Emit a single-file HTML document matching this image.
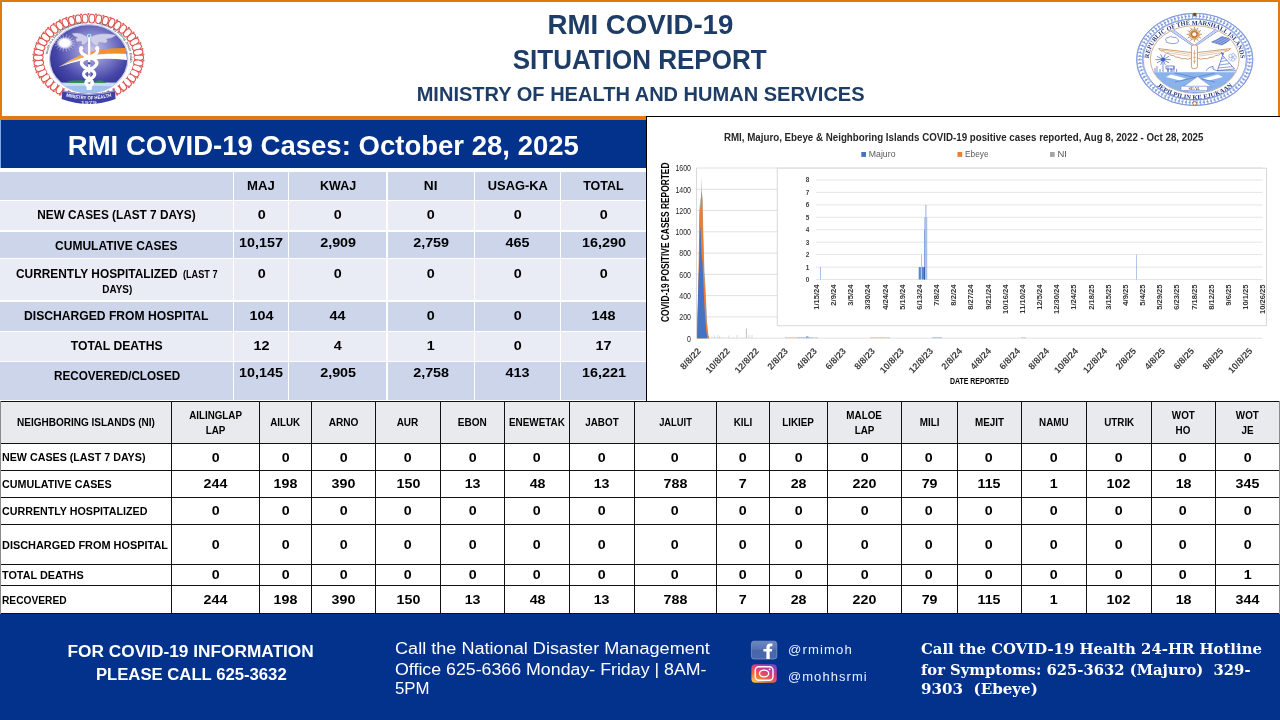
<!DOCTYPE html>
<html lang="en"><head><meta charset="utf-8"><title>RMI COVID-19 Situation Report</title>
<style>
html,body{margin:0;padding:0}
body{width:1280px;height:720px;position:relative;overflow:hidden;background:#fff;font-family:"Liberation Sans",sans-serif;color:#000}
.t{position:absolute;white-space:nowrap;line-height:1;font-weight:bold}
.r{position:absolute}
svg{position:absolute;overflow:visible}
svg text{font-family:"Liberation Sans",sans-serif}
</style></head><body>
<div class="r" style="left:0;top:0;width:1276px;height:113.5px;border-style:solid;border-color:#E07A10;border-width:2px 2px 4px 2px;background:#fff"></div>
<div class="t" style="left:548.56px;top:10.68px;font-size:27.2px;color:#1D3C66;transform:scaleX(1.0171);transform-origin:50% 50%;">RMI COVID-19</div>
<div class="t" style="left:506.87px;top:46.38px;font-size:27.2px;color:#1D3C66;transform:scaleX(0.9568);transform-origin:50% 50%;">SITUATION REPORT</div>
<div class="t" style="left:408.33px;top:84.39px;font-size:20.8px;color:#1D3C66;transform:scaleX(0.9627);transform-origin:50% 50%;">MINISTRY OF HEALTH AND HUMAN SERVICES</div>
<svg width="1280" height="120" viewBox="0 0 1280 120" style="left:0;top:0">
<defs>
<radialGradient id="lg1" cx="0.55" cy="0.36" r="0.66"><stop offset="0" stop-color="#C4C2EA"/><stop offset="0.3" stop-color="#8E8DD2"/><stop offset="0.7" stop-color="#4546A8"/><stop offset="1" stop-color="#2C2D8C"/></radialGradient>
<radialGradient id="lg2" cx="0.5" cy="0.5" r="0.5"><stop offset="0" stop-color="#fff"/><stop offset="0.6" stop-color="#fff" stop-opacity="0.97"/><stop offset="1" stop-color="#fff" stop-opacity="0"/></radialGradient>
<linearGradient id="lg3" x1="0" x2="1" y1="0" y2="0"><stop offset="0" stop-color="#F8C06A"/><stop offset="0.5" stop-color="#F29A2E"/><stop offset="1" stop-color="#EC8A20"/></linearGradient>
<clipPath id="lc1"><ellipse cx="88.7" cy="58.8" rx="39.2" ry="34.2"/></clipPath>
<path id="lp1" d="M47.53,55.08 A41.4,35.6 0 0 1 84.37,23.40"/>
<path id="lp2" d="M98.01,24.11 A41.4,35.6 0 0 1 129.70,63.75"/>
<path id="lp3" d="M64.6,96.2 Q88.8,102.6 113,96.2"/>
</defs>
<ellipse cx="88.5" cy="57.6" rx="50.2" ry="39.1" fill="none" stroke="#F0A098" stroke-width="9.4" opacity="0.35"/>
<ellipse cx="138.7" cy="57.6" rx="4.9" ry="2.9" transform="rotate(0 138.7 57.6)" fill="#fff" stroke="#DC5048" stroke-width="1.05"/>
<ellipse cx="138.2" cy="62.9" rx="4.8" ry="2.9" transform="rotate(10 138.2 62.9)" fill="#fff" stroke="#DC5048" stroke-width="1.05"/>
<ellipse cx="136.8" cy="68.1" rx="4.8" ry="2.9" transform="rotate(20 136.8 68.1)" fill="#fff" stroke="#DC5048" stroke-width="1.05"/>
<ellipse cx="134.5" cy="73.2" rx="4.7" ry="2.9" transform="rotate(29 134.5 73.2)" fill="#fff" stroke="#DC5048" stroke-width="1.05"/>
<ellipse cx="131.4" cy="77.9" rx="4.6" ry="2.9" transform="rotate(38 131.4 77.9)" fill="#fff" stroke="#DC5048" stroke-width="1.05"/>
<ellipse cx="127.4" cy="82.3" rx="4.6" ry="2.9" transform="rotate(46 127.4 82.3)" fill="#fff" stroke="#DC5048" stroke-width="1.05"/>
<ellipse cx="122.8" cy="86.2" rx="4.5" ry="2.9" transform="rotate(54 122.8 86.2)" fill="#fff" stroke="#DC5048" stroke-width="1.05"/>
<ellipse cx="117.4" cy="89.5" rx="4.5" ry="2.9" transform="rotate(61 117.4 89.5)" fill="#fff" stroke="#DC5048" stroke-width="1.05"/>
<ellipse cx="111.6" cy="92.3" rx="4.5" ry="2.9" transform="rotate(68 111.6 92.3)" fill="#fff" stroke="#DC5048" stroke-width="1.05"/>
<ellipse cx="105.3" cy="94.4" rx="4.4" ry="2.9" transform="rotate(75 105.3 94.4)" fill="#fff" stroke="#DC5048" stroke-width="1.05"/>
<ellipse cx="98.7" cy="95.9" rx="4.4" ry="2.9" transform="rotate(81 98.7 95.9)" fill="#fff" stroke="#DC5048" stroke-width="1.05"/>
<ellipse cx="91.9" cy="96.6" rx="4.4" ry="2.9" transform="rotate(87 91.9 96.6)" fill="#fff" stroke="#DC5048" stroke-width="1.05"/>
<ellipse cx="85.1" cy="96.6" rx="4.4" ry="2.9" transform="rotate(93 85.1 96.6)" fill="#fff" stroke="#DC5048" stroke-width="1.05"/>
<ellipse cx="78.3" cy="95.9" rx="4.4" ry="2.9" transform="rotate(99 78.3 95.9)" fill="#fff" stroke="#DC5048" stroke-width="1.05"/>
<ellipse cx="71.7" cy="94.4" rx="4.4" ry="2.9" transform="rotate(105 71.7 94.4)" fill="#fff" stroke="#DC5048" stroke-width="1.05"/>
<ellipse cx="65.4" cy="92.3" rx="4.5" ry="2.9" transform="rotate(112 65.4 92.3)" fill="#fff" stroke="#DC5048" stroke-width="1.05"/>
<ellipse cx="59.6" cy="89.5" rx="4.5" ry="2.9" transform="rotate(119 59.6 89.5)" fill="#fff" stroke="#DC5048" stroke-width="1.05"/>
<ellipse cx="54.2" cy="86.2" rx="4.5" ry="2.9" transform="rotate(126 54.2 86.2)" fill="#fff" stroke="#DC5048" stroke-width="1.05"/>
<ellipse cx="49.6" cy="82.3" rx="4.6" ry="2.9" transform="rotate(134 49.6 82.3)" fill="#fff" stroke="#DC5048" stroke-width="1.05"/>
<ellipse cx="45.6" cy="77.9" rx="4.6" ry="2.9" transform="rotate(142 45.6 77.9)" fill="#fff" stroke="#DC5048" stroke-width="1.05"/>
<ellipse cx="42.5" cy="73.2" rx="4.7" ry="2.9" transform="rotate(151 42.5 73.2)" fill="#fff" stroke="#DC5048" stroke-width="1.05"/>
<ellipse cx="40.2" cy="68.1" rx="4.8" ry="2.9" transform="rotate(160 40.2 68.1)" fill="#fff" stroke="#DC5048" stroke-width="1.05"/>
<ellipse cx="38.8" cy="62.9" rx="4.8" ry="2.9" transform="rotate(170 38.8 62.9)" fill="#fff" stroke="#DC5048" stroke-width="1.05"/>
<ellipse cx="38.3" cy="57.6" rx="4.9" ry="2.9" transform="rotate(180 38.3 57.6)" fill="#fff" stroke="#DC5048" stroke-width="1.05"/>
<ellipse cx="38.8" cy="52.3" rx="4.8" ry="2.9" transform="rotate(-170 38.8 52.3)" fill="#fff" stroke="#DC5048" stroke-width="1.05"/>
<ellipse cx="40.2" cy="47.1" rx="4.8" ry="2.9" transform="rotate(-160 40.2 47.1)" fill="#fff" stroke="#DC5048" stroke-width="1.05"/>
<ellipse cx="42.5" cy="42.0" rx="4.7" ry="2.9" transform="rotate(-151 42.5 42.0)" fill="#fff" stroke="#DC5048" stroke-width="1.05"/>
<ellipse cx="45.6" cy="37.3" rx="4.6" ry="2.9" transform="rotate(-142 45.6 37.3)" fill="#fff" stroke="#DC5048" stroke-width="1.05"/>
<ellipse cx="49.6" cy="32.9" rx="4.6" ry="2.9" transform="rotate(-134 49.6 32.9)" fill="#fff" stroke="#DC5048" stroke-width="1.05"/>
<ellipse cx="54.2" cy="29.0" rx="4.5" ry="2.9" transform="rotate(-126 54.2 29.0)" fill="#fff" stroke="#DC5048" stroke-width="1.05"/>
<ellipse cx="59.6" cy="25.7" rx="4.5" ry="2.9" transform="rotate(-119 59.6 25.7)" fill="#fff" stroke="#DC5048" stroke-width="1.05"/>
<ellipse cx="65.4" cy="22.9" rx="4.5" ry="2.9" transform="rotate(-112 65.4 22.9)" fill="#fff" stroke="#DC5048" stroke-width="1.05"/>
<ellipse cx="71.7" cy="20.8" rx="4.4" ry="2.9" transform="rotate(-105 71.7 20.8)" fill="#fff" stroke="#DC5048" stroke-width="1.05"/>
<ellipse cx="78.3" cy="19.3" rx="4.4" ry="2.9" transform="rotate(-99 78.3 19.3)" fill="#fff" stroke="#DC5048" stroke-width="1.05"/>
<ellipse cx="85.1" cy="18.6" rx="4.4" ry="2.9" transform="rotate(-93 85.1 18.6)" fill="#fff" stroke="#DC5048" stroke-width="1.05"/>
<ellipse cx="91.9" cy="18.6" rx="4.4" ry="2.9" transform="rotate(-87 91.9 18.6)" fill="#fff" stroke="#DC5048" stroke-width="1.05"/>
<ellipse cx="98.7" cy="19.3" rx="4.4" ry="2.9" transform="rotate(-81 98.7 19.3)" fill="#fff" stroke="#DC5048" stroke-width="1.05"/>
<ellipse cx="105.3" cy="20.8" rx="4.4" ry="2.9" transform="rotate(-75 105.3 20.8)" fill="#fff" stroke="#DC5048" stroke-width="1.05"/>
<ellipse cx="111.6" cy="22.9" rx="4.5" ry="2.9" transform="rotate(-68 111.6 22.9)" fill="#fff" stroke="#DC5048" stroke-width="1.05"/>
<ellipse cx="117.4" cy="25.7" rx="4.5" ry="2.9" transform="rotate(-61 117.4 25.7)" fill="#fff" stroke="#DC5048" stroke-width="1.05"/>
<ellipse cx="122.8" cy="29.0" rx="4.5" ry="2.9" transform="rotate(-54 122.8 29.0)" fill="#fff" stroke="#DC5048" stroke-width="1.05"/>
<ellipse cx="127.4" cy="32.9" rx="4.6" ry="2.9" transform="rotate(-46 127.4 32.9)" fill="#fff" stroke="#DC5048" stroke-width="1.05"/>
<ellipse cx="131.4" cy="37.3" rx="4.6" ry="2.9" transform="rotate(-38 131.4 37.3)" fill="#fff" stroke="#DC5048" stroke-width="1.05"/>
<ellipse cx="134.5" cy="42.0" rx="4.7" ry="2.9" transform="rotate(-29 134.5 42.0)" fill="#fff" stroke="#DC5048" stroke-width="1.05"/>
<ellipse cx="136.8" cy="47.1" rx="4.8" ry="2.9" transform="rotate(-20 136.8 47.1)" fill="#fff" stroke="#DC5048" stroke-width="1.05"/>
<ellipse cx="138.2" cy="52.3" rx="4.8" ry="2.9" transform="rotate(-10 138.2 52.3)" fill="#fff" stroke="#DC5048" stroke-width="1.05"/>
<circle cx="143.5" cy="60.6" r="1.05" fill="#D9625C"/>
<circle cx="142.4" cy="66.5" r="1.05" fill="#D9625C"/>
<circle cx="140.4" cy="72.2" r="1.05" fill="#D9625C"/>
<circle cx="137.4" cy="77.6" r="1.05" fill="#D9625C"/>
<circle cx="133.5" cy="82.7" r="1.05" fill="#D9625C"/>
<circle cx="128.8" cy="87.3" r="1.05" fill="#D9625C"/>
<circle cx="123.3" cy="91.3" r="1.05" fill="#D9625C"/>
<circle cx="117.1" cy="94.8" r="1.05" fill="#D9625C"/>
<circle cx="110.5" cy="97.5" r="1.05" fill="#D9625C"/>
<circle cx="103.4" cy="99.5" r="1.05" fill="#D9625C"/>
<circle cx="96.0" cy="100.7" r="1.05" fill="#D9625C"/>
<circle cx="88.5" cy="101.1" r="1.05" fill="#D9625C"/>
<circle cx="81.0" cy="100.7" r="1.05" fill="#D9625C"/>
<circle cx="73.6" cy="99.5" r="1.05" fill="#D9625C"/>
<circle cx="66.5" cy="97.5" r="1.05" fill="#D9625C"/>
<circle cx="59.9" cy="94.8" r="1.05" fill="#D9625C"/>
<circle cx="53.7" cy="91.3" r="1.05" fill="#D9625C"/>
<circle cx="48.2" cy="87.3" r="1.05" fill="#D9625C"/>
<circle cx="43.5" cy="82.7" r="1.05" fill="#D9625C"/>
<circle cx="39.6" cy="77.6" r="1.05" fill="#D9625C"/>
<circle cx="36.6" cy="72.2" r="1.05" fill="#D9625C"/>
<circle cx="34.6" cy="66.5" r="1.05" fill="#D9625C"/>
<circle cx="33.5" cy="60.6" r="1.05" fill="#D9625C"/>
<circle cx="33.5" cy="54.6" r="1.05" fill="#D9625C"/>
<circle cx="34.6" cy="48.7" r="1.05" fill="#D9625C"/>
<circle cx="36.6" cy="43.0" r="1.05" fill="#D9625C"/>
<circle cx="39.6" cy="37.6" r="1.05" fill="#D9625C"/>
<circle cx="43.5" cy="32.5" r="1.05" fill="#D9625C"/>
<circle cx="48.2" cy="27.9" r="1.05" fill="#D9625C"/>
<circle cx="53.7" cy="23.9" r="1.05" fill="#D9625C"/>
<circle cx="59.9" cy="20.4" r="1.05" fill="#D9625C"/>
<circle cx="66.5" cy="17.7" r="1.05" fill="#D9625C"/>
<circle cx="73.6" cy="15.7" r="1.05" fill="#D9625C"/>
<circle cx="81.0" cy="14.5" r="1.05" fill="#D9625C"/>
<circle cx="88.5" cy="14.1" r="1.05" fill="#D9625C"/>
<circle cx="96.0" cy="14.5" r="1.05" fill="#D9625C"/>
<circle cx="103.4" cy="15.7" r="1.05" fill="#D9625C"/>
<circle cx="110.5" cy="17.7" r="1.05" fill="#D9625C"/>
<circle cx="117.1" cy="20.4" r="1.05" fill="#D9625C"/>
<circle cx="123.3" cy="23.9" r="1.05" fill="#D9625C"/>
<circle cx="128.8" cy="27.9" r="1.05" fill="#D9625C"/>
<circle cx="133.5" cy="32.5" r="1.05" fill="#D9625C"/>
<circle cx="137.4" cy="37.6" r="1.05" fill="#D9625C"/>
<circle cx="140.4" cy="43.0" r="1.05" fill="#D9625C"/>
<circle cx="142.4" cy="48.7" r="1.05" fill="#D9625C"/>
<circle cx="143.5" cy="54.6" r="1.05" fill="#D9625C"/>
<ellipse cx="88.7" cy="58.8" rx="45" ry="35.4" fill="#fff"/>
<text font-size="3.4" fill="#5E5E70" font-weight="bold"><textPath href="#lp1" startOffset="1" textLength="50" lengthAdjust="spacingAndGlyphs">Health is a Shared Responsibility</textPath></text>
<text font-size="3.4" fill="#5E5E70" font-weight="bold"><textPath href="#lp2" startOffset="1" textLength="54" lengthAdjust="spacingAndGlyphs">Ejmour Ej Adwoj Jimor Eddo</textPath></text>
<ellipse cx="88.7" cy="58.8" rx="39.2" ry="34.2" fill="url(#lg1)" stroke="#C9C7EC" stroke-width="1.2"/>
<g clip-path="url(#lc1)">
<path d="M45,82.6 H135 V96 H45 Z" fill="#9FC2EC"/>
<path d="M52,84 Q88,80.6 126,84 V87 Q88,84.4 52,87 Z" fill="#D6E6F7" opacity="0.75"/>
<path d="M64.4,82.8 Q70,79.8 76,80.6 Q82,79.4 86,81.4 L86,82.9 Z" fill="#2E8B4A"/>
<path d="M93,82.8 Q97.4,79.4 101,80.6 Q104.4,81 106.6,82.9 Z" fill="#2E8B4A"/>
<path d="M58.6,67 Q70,59.6 81.5,54.4 Q100,47.6 125.6,48 L126.4,53.8 Q102,52.4 81.5,57.9 Q70,61.4 58.6,67 Z" fill="url(#lg3)"/>
<path d="M58.6,67 Q70,61.4 81.5,57.9 Q102,52.4 126.4,53.8 L127,59.9 Q102,57.4 81.5,60.6 Q70,63 58.6,67 Z" fill="#fff"/>
<g stroke="#fff" stroke-width="0.55" opacity="0.8">
<line x1="70.2" y1="43.0" x2="75.2" y2="43.0"/>
<line x1="69.9" y1="44.4" x2="74.6" y2="45.9"/>
<line x1="68.9" y1="45.6" x2="72.7" y2="48.5"/>
<line x1="67.5" y1="46.5" x2="70.0" y2="50.4"/>
<line x1="65.7" y1="46.9" x2="66.5" y2="51.5"/>
<line x1="63.7" y1="46.9" x2="62.9" y2="51.5"/>
<line x1="62.0" y1="46.5" x2="59.5" y2="50.4"/>
<line x1="60.5" y1="45.6" x2="56.7" y2="48.5"/>
<line x1="59.5" y1="44.4" x2="54.8" y2="45.9"/>
<line x1="59.2" y1="43.0" x2="54.2" y2="43.0"/>
<line x1="59.5" y1="41.6" x2="54.8" y2="40.1"/>
<line x1="60.5" y1="40.4" x2="56.7" y2="37.5"/>
<line x1="62.0" y1="39.5" x2="59.4" y2="35.6"/>
<line x1="63.7" y1="39.1" x2="62.9" y2="34.5"/>
<line x1="65.7" y1="39.1" x2="66.5" y2="34.5"/>
<line x1="67.5" y1="39.5" x2="69.9" y2="35.6"/>
<line x1="68.9" y1="40.4" x2="72.7" y2="37.5"/>
<line x1="69.9" y1="41.6" x2="74.6" y2="40.1"/>
</g>
<ellipse cx="64.7" cy="43" rx="8.4" ry="6.4" fill="url(#lg2)"/>
<path d="M88,37.4 Q80,31.6 72,33.6 Q73.6,36.6 77.6,37.6 Q74.8,39.2 76.4,41.6 Q79.4,41.8 81.4,41 Q80.6,43.6 83,45.2 Q86.6,43.6 88,40.4 Z" fill="#CFCEEA" stroke="#9C9BD0" stroke-width="0.4"/>
<path d="M90.4,37.4 Q98,31.6 116,35 Q112.4,38.4 106.4,39 Q108.4,41 106,43 Q101.4,43 98.8,42 Q99.4,44.6 96.4,46 Q92,44 90.4,40.4 Z" fill="#CFCEEA" stroke="#9C9BD0" stroke-width="0.4"/>
<rect x="88.1" y="36" width="2.2" height="54" rx="1" fill="#fff"/>
<circle cx="89.2" cy="36" r="2.3" fill="#CFE8FF"/><circle cx="89.2" cy="35.8" r="1.2" fill="#4FA8F0"/>
<path d="M81,49 Q79.4,54 89.2,57 Q98.4,60 96.6,64.4 Q94.6,67.8 89.2,69.4 Q82.6,71.4 83.8,75.2 Q85,78 89.2,79.2 Q93.6,80.8 92,84.2 Q90.6,86.8 88,88.4" fill="none" stroke="#fff" stroke-width="3.2" stroke-linecap="round"/>
<path d="M97.4,49 Q99,54 89.2,57 Q80,60 81.8,64.4 Q83.8,67.8 89.2,69.4 Q95.8,71.4 94.6,75.2 Q93.4,78 89.2,79.2 Q84.8,80.8 86.4,84.2 Q87.8,86.8 90.4,88.4" fill="none" stroke="#fff" stroke-width="3.2" stroke-linecap="round"/>
<circle cx="81.2" cy="48.2" r="2.1" fill="#fff"/><circle cx="97.2" cy="48.2" r="2.1" fill="#fff"/>
<circle cx="89.2" cy="63.2" r="1.3" fill="#4A4AA8"/><circle cx="89.2" cy="74.4" r="1.1" fill="#7A7AA8"/><circle cx="89.2" cy="83" r="0.9" fill="#7A7AA8"/>
</g>
<path d="M62.6,90.2 Q88.8,97.6 114.6,90.2 L115.6,99 Q88.8,109 61.6,99 Z" fill="#3D3FA6"/>
<path d="M62.6,90.2 Q88.8,97.6 114.6,90.2 L114.8,91.6 Q88.8,99 62.4,91.6 Z" fill="#9A9ADC"/>
<text font-size="4.9" font-weight="bold" fill="#fff" text-anchor="middle"><textPath href="#lp3" startOffset="50%" textLength="46" lengthAdjust="spacingAndGlyphs">MINISTRY OF HEALTH</textPath></text>
<text x="88.8" y="104.2" font-size="3.8" font-weight="bold" fill="#DADAF6" text-anchor="middle" textLength="16" lengthAdjust="spacingAndGlyphs">1979</text>
</svg>
<svg width="1280" height="120" viewBox="0 0 1280 120" style="left:0;top:0">
<defs>
<clipPath id="rc1"><ellipse cx="1194.7" cy="59.4" rx="44.2" ry="33.6"/></clipPath>
<path id="rp1" d="M1148.91,58.79 A45.8,35.0 0 0 1 1240.49,58.79"/>
<path id="rp2" d="M1149.76,78.18 A50.9,40.0 0 0 0 1239.64,78.18"/>
</defs>
<ellipse cx="1194.7" cy="59.4" rx="55" ry="43.3" fill="none" stroke="#9DB3E6" stroke-width="6.4"/>
<ellipse cx="1194.7" cy="59.4" rx="55" ry="43.3" fill="none" stroke="#fff" stroke-width="4.4" stroke-dasharray="2.4 1.2"/>
<ellipse cx="1194.7" cy="59.4" rx="55" ry="43.3" fill="none" stroke="#7F9BDD" stroke-width="1.4" stroke-dasharray="1.8 1.8" stroke-dashoffset="1"/>
<ellipse cx="1194.7" cy="59.4" rx="58.3" ry="46.1" fill="none" stroke="#6C8AD6" stroke-width="0.7"/>
<ellipse cx="1194.7" cy="59.4" rx="51.6" ry="40.4" fill="none" stroke="#6C8AD6" stroke-width="0.7"/>
<text font-size="6.5" font-weight="bold" fill="#27397F" style="font-family:'Liberation Serif',serif" text-anchor="middle"><textPath href="#rp1" startOffset="50%" textLength="125" lengthAdjust="spacingAndGlyphs">REPUBLIC OF THE MARSHALL ISLANDS</textPath></text>
<text font-size="6.3" font-weight="bold" fill="#27397F" style="font-family:'Liberation Serif',serif" text-anchor="middle"><textPath href="#rp2" startOffset="50%" textLength="82" lengthAdjust="spacingAndGlyphs">JEPILPILIN KE EJUKAAN</textPath></text>
<ellipse cx="1194.7" cy="59.4" rx="44.4" ry="33.8" fill="#fff" stroke="#B07A4A" stroke-width="0.6"/>
<g clip-path="url(#rc1)">
<rect x="1145" y="72.2" width="100" height="30" fill="#8AB3EC"/>
<path d="M1171,74.6 L1186,78.4 L1180,80.6 L1166,77 Z" fill="#fff"/><path d="M1218,74.6 L1203,78.4 L1209,80.6 L1223,77 Z" fill="#fff"/>
<path d="M1175,73 L1215,82 M1215,73 L1175,82" stroke="#5B7BCB" stroke-width="0.7"/>
<path d="M1197.5,76.6 L1211.5,86.6 L1183.5,86.6 Z" fill="#fff" stroke="#5B7BCB" stroke-width="0.5"/>
<path d="M1188,86.6 H1207 V92 H1188 Z" fill="#DDE9FA" stroke="#5B7BCB" stroke-width="0.4"/>
<path d="M1181,86.2 H1207.5 V90.6 H1181 Z" fill="#fff" stroke="#5B7BCB" stroke-width="0.5"/>
<text x="1194.4" y="90" font-size="3.8" font-weight="bold" fill="#8A5A2B" text-anchor="middle" style="font-family:'Liberation Serif',serif" textLength="12" lengthAdjust="spacingAndGlyphs">SEAL</text>
<path d="M1193,46 L1168,29 M1193.6,45 L1170.6,27.6 M1195.6,46 L1220.6,29 M1195,45 L1218,27.6" stroke="#4460C0" stroke-width="0.8"/>
<path d="M1193,46 L1168,29 L1170.6,27.6 L1193.6,45 Z M1195.6,46 L1220.6,29 L1218,27.6 L1195,45 Z" fill="#C4D1F2"/>
<g stroke="#B5651D" stroke-width="0.7">
<line x1="1196.9" y1="34.3" x2="1201.9" y2="34.3"/>
<line x1="1196.8" y1="35.0" x2="1199.9" y2="35.8"/>
<line x1="1196.6" y1="35.6" x2="1200.9" y2="38.1"/>
<line x1="1196.1" y1="36.1" x2="1198.4" y2="38.4"/>
<line x1="1195.6" y1="36.6" x2="1198.1" y2="40.9"/>
<line x1="1195.0" y1="36.8" x2="1195.8" y2="39.9"/>
<line x1="1194.3" y1="36.9" x2="1194.3" y2="41.9"/>
<line x1="1193.6" y1="36.8" x2="1192.8" y2="39.9"/>
<line x1="1193.0" y1="36.6" x2="1190.5" y2="40.9"/>
<line x1="1192.5" y1="36.1" x2="1190.2" y2="38.4"/>
<line x1="1192.0" y1="35.6" x2="1187.7" y2="38.1"/>
<line x1="1191.8" y1="35.0" x2="1188.7" y2="35.8"/>
<line x1="1191.7" y1="34.3" x2="1186.7" y2="34.3"/>
<line x1="1191.8" y1="33.6" x2="1188.7" y2="32.8"/>
<line x1="1192.0" y1="33.0" x2="1187.7" y2="30.5"/>
<line x1="1192.5" y1="32.5" x2="1190.2" y2="30.2"/>
<line x1="1193.0" y1="32.0" x2="1190.5" y2="27.7"/>
<line x1="1193.6" y1="31.8" x2="1192.8" y2="28.7"/>
<line x1="1194.3" y1="31.7" x2="1194.3" y2="26.7"/>
<line x1="1195.0" y1="31.8" x2="1195.8" y2="28.7"/>
<line x1="1195.6" y1="32.0" x2="1198.1" y2="27.7"/>
<line x1="1196.1" y1="32.5" x2="1198.4" y2="30.2"/>
<line x1="1196.6" y1="33.0" x2="1200.9" y2="30.5"/>
<line x1="1196.8" y1="33.6" x2="1199.9" y2="32.8"/>
</g>
<circle cx="1194.3" cy="34.3" r="3.4" fill="#C9772E"/><circle cx="1194.3" cy="34.3" r="2" fill="#fff"/>
<path d="M1166,40.6 Q1164.6,38 1168,37.6 Q1170,35.8 1173,37.2 Q1177,36.6 1178,39.6 Q1179.4,42.6 1176,43.2 Q1172,44.4 1169,43 Q1165.6,43 1166,40.6 Z" fill="#fff" stroke="#4460C0" stroke-width="0.6"/>
<path d="M1211.6,42 Q1217,40 1222,36.6 L1231,39 Q1226,43.4 1221.6,45 Z" fill="#6C8AD6" stroke="#3E58B4" stroke-width="0.5"/>
<path d="M1214,42.6 L1224.6,37.4 M1217,43.6 L1227.4,38.2 M1220,44.6 L1229.6,38.8" stroke="#E8EEFB" stroke-width="0.4"/>
<path d="M1191.6,52.6 L1158.6,48.6 Q1160,51 1164,51.4 Q1164.6,53.4 1168.6,53.6 Q1169.6,55.6 1173.6,55.6 Q1175,57.6 1179,57.4 Q1181,59.4 1185,58.6 Q1188,60 1191.6,58 Z" fill="#fff" stroke="#B9783C" stroke-width="0.7"/>
<path d="M1197.2,52.6 L1230.6,48.6 Q1229,51 1225,51.4 Q1224.4,53.4 1220.4,53.6 Q1219.4,55.6 1215.4,55.6 Q1214,57.6 1210,57.4 Q1208,59.4 1204,58.6 Q1201,60 1197.2,58 Z" fill="#fff" stroke="#B9783C" stroke-width="0.7"/>
<path d="M1162,50 L1190,54.4 M1167,52.6 L1190,56.2 M1227,50 L1199,54.4 M1222,52.6 L1199,56.2" stroke="#B9783C" stroke-width="0.4"/>
<rect x="1191.4" y="45" width="6" height="23.6" rx="2" fill="#fff" stroke="#B9783C" stroke-width="0.7"/>
<path d="M1194.4,50 v14 M1193,53 q1.6,1.4 3,0 M1193,57 q1.6,1.4 3,0 M1193,61 q1.6,1.4 3,0" stroke="#B9783C" stroke-width="0.5" fill="none"/>
<g stroke="#4460C0" stroke-width="0.7" fill="none">
<path d="M1163,72 V60"/>
<path d="M1163,59.6 L1170.6,59.6"/>
<path d="M1163,59.6 L1169.1,62.9"/>
<path d="M1163,59.6 L1165.3,64.9"/>
<path d="M1163,59.6 L1160.7,64.9"/>
<path d="M1163,59.6 L1156.9,62.9"/>
<path d="M1163,59.6 L1155.4,59.6"/>
<path d="M1163,59.6 L1156.9,56.3"/>
<path d="M1163,59.6 L1160.7,54.3"/>
<path d="M1163,59.6 L1165.3,54.3"/>
<path d="M1163,59.6 L1169.1,56.3"/>
<path d="M1155,72 v-4 m2,4 v-6 m3,6 v-3 m8,3 v-5 m3,5 v-4 m3,4 v-6 m2.6,6 v-3"/>
<path d="M1166,66 h8 v3 h-8 z M1168,69 v3 M1172,69 v3"/>
</g>
<circle cx="1163" cy="59.6" r="2" fill="#4460C0"/>
<path d="M1217.4,70.6 L1222.6,55.4 L1234.6,69 Z" fill="#fff" stroke="#4460C0" stroke-width="0.7"/>
<path d="M1219.4,65 L1229.6,63.6 M1218.4,68 L1232.4,66.6 M1220.6,61.6 L1226.8,60.4 M1221.6,58.4 L1224.4,58" stroke="#4460C0" stroke-width="0.6"/>
<path d="M1222.6,55.4 L1221.4,52.4 L1224,54" fill="#4460C0" stroke="#4460C0" stroke-width="0.5"/>
<path d="M1206,70.6 Q1209,66.6 1213,66.4 L1213,69 L1217,70.8 L1236,70.8" fill="none" stroke="#4460C0" stroke-width="0.7"/>
<circle cx="1233.3" cy="55.3" r="1.7" fill="#fff" stroke="#6C8AD6" stroke-width="0.5"/>
<circle cx="1234.8" cy="57.5" r="1.7" fill="#fff" stroke="#6C8AD6" stroke-width="0.5"/>
<circle cx="1233.0" cy="59.5" r="1.7" fill="#fff" stroke="#6C8AD6" stroke-width="0.5"/>
<circle cx="1230.4" cy="58.6" r="1.7" fill="#fff" stroke="#6C8AD6" stroke-width="0.5"/>
<circle cx="1230.5" cy="56.0" r="1.7" fill="#fff" stroke="#6C8AD6" stroke-width="0.5"/>
</g>
<circle cx="1194.7" cy="14.6" r="1.8" fill="#7A4A22"/><circle cx="1194.7" cy="103.4" r="1.9" fill="#fff" stroke="#B5651D" stroke-width="0.9"/>
</svg>
<div class="r" style="left:0px;top:120px;width:1px;height:48px;background:#7FA6E6;"></div>
<div class="r" style="left:1px;top:120px;width:645px;height:48px;background:#02328C;"></div>
<div class="t" style="left:70.84px;top:131.58px;font-size:27.2px;color:#fff;transform:scaleX(1.0128);transform-origin:50% 50%;">RMI COVID-19 Cases: October 28, 2025</div>
<div class="r" style="left:0px;top:172px;width:646px;height:27.5px;background:#CCD5EA;"></div>
<div class="r" style="left:0px;top:201px;width:646px;height:29.2px;background:#E9ECF5;"></div>
<div class="r" style="left:0px;top:231.7px;width:646px;height:26.0px;background:#CCD5EA;"></div>
<div class="r" style="left:0px;top:259.3px;width:646px;height:40.5px;background:#E9ECF5;"></div>
<div class="r" style="left:0px;top:301.5px;width:646px;height:29.0px;background:#CCD5EA;"></div>
<div class="r" style="left:0px;top:332px;width:646px;height:28.8px;background:#E9ECF5;"></div>
<div class="r" style="left:0px;top:362.3px;width:646px;height:38.2px;background:#CCD5EA;"></div>
<div class="r" style="left:232.8px;top:171px;width:1.5px;height:230px;background:#fff;"></div>
<div class="r" style="left:287.8px;top:171px;width:1.5px;height:230px;background:#fff;"></div>
<div class="r" style="left:386.1px;top:171px;width:1.5px;height:230px;background:#fff;"></div>
<div class="r" style="left:473.9px;top:171px;width:1.5px;height:230px;background:#fff;"></div>
<div class="r" style="left:559.9px;top:171px;width:1.5px;height:230px;background:#fff;"></div>
<div class="t" style="left:247.21px;top:179.33px;font-size:13.2px;transform:scaleX(0.9939);transform-origin:50% 50%;">MAJ</div>
<div class="t" style="left:318.78px;top:179.33px;font-size:13.2px;transform:scaleX(0.9492);transform-origin:50% 50%;">KWAJ</div>
<div class="t" style="left:424.25px;top:179.33px;font-size:13.2px;transform:scaleX(1.0378);transform-origin:50% 50%;">NI</div>
<div class="t" style="left:486.85px;top:179.33px;font-size:13.2px;transform:scaleX(0.9740);transform-origin:50% 50%;">USAG-KA</div>
<div class="t" style="left:582.06px;top:179.33px;font-size:13.2px;transform:scaleX(0.9445);transform-origin:50% 50%;">TOTAL</div>
<div class="t" style="left:28.20px;top:208.13px;font-size:13.2px;transform:scaleX(0.8955);transform-origin:50% 50%;">NEW CASES (LAST 7 DAYS)</div>
<div class="t" style="left:49.35px;top:238.83px;font-size:13.2px;transform:scaleX(0.9095);transform-origin:50% 50%;">CUMULATIVE CASES</div>
<div class="t" style="left:16.35px;top:308.83px;font-size:13.2px;transform:scaleX(0.9198);transform-origin:50% 50%;">DISCHARGED FROM HOSPITAL</div>
<div class="t" style="left:66.95px;top:338.83px;font-size:13.2px;transform:scaleX(0.9227);transform-origin:50% 50%;">TOTAL DEATHS</div>
<div class="t" style="left:45.56px;top:368.83px;font-size:13.2px;transform:scaleX(0.8876);transform-origin:50% 50%;">RECOVERED/CLOSED</div>
<div class="t" style="left:16.00px;top:266.83px;font-size:13.2px;transform:scaleX(0.9017);transform-origin:0 50%;">CURRENTLY HOSPITALIZED</div>
<div class="t" style="left:183.00px;top:268.86px;font-size:10.8px;transform:scaleX(0.8456);transform-origin:0 50%;">(LAST 7</div>
<div class="t" style="left:101.19px;top:283.66px;font-size:10.8px;transform:scaleX(0.9199);transform-origin:50% 50%;">DAYS)</div>
<div class="t" style="left:257.54px;top:208.20px;font-size:13.7px;transform:scaleX(1.0500);transform-origin:50% 50%;">0</div>
<div class="t" style="left:334.24px;top:208.20px;font-size:13.7px;transform:scaleX(1.0500);transform-origin:50% 50%;">0</div>
<div class="t" style="left:427.24px;top:208.20px;font-size:13.7px;transform:scaleX(1.0500);transform-origin:50% 50%;">0</div>
<div class="t" style="left:514.04px;top:208.20px;font-size:13.7px;transform:scaleX(1.0500);transform-origin:50% 50%;">0</div>
<div class="t" style="left:599.84px;top:208.20px;font-size:13.7px;transform:scaleX(1.0500);transform-origin:50% 50%;">0</div>
<div class="t" style="left:240.40px;top:236.00px;font-size:13.7px;transform:scaleX(1.0500);transform-origin:50% 50%;">10,157</div>
<div class="t" style="left:320.91px;top:236.00px;font-size:13.7px;transform:scaleX(1.0500);transform-origin:50% 50%;">2,909</div>
<div class="t" style="left:413.91px;top:236.00px;font-size:13.7px;transform:scaleX(1.0500);transform-origin:50% 50%;">2,759</div>
<div class="t" style="left:506.42px;top:236.00px;font-size:13.7px;transform:scaleX(1.0500);transform-origin:50% 50%;">465</div>
<div class="t" style="left:582.70px;top:236.00px;font-size:13.7px;transform:scaleX(1.0500);transform-origin:50% 50%;">16,290</div>
<div class="t" style="left:257.54px;top:267.00px;font-size:13.7px;transform:scaleX(1.0500);transform-origin:50% 50%;">0</div>
<div class="t" style="left:334.24px;top:267.00px;font-size:13.7px;transform:scaleX(1.0500);transform-origin:50% 50%;">0</div>
<div class="t" style="left:427.24px;top:267.00px;font-size:13.7px;transform:scaleX(1.0500);transform-origin:50% 50%;">0</div>
<div class="t" style="left:514.04px;top:267.00px;font-size:13.7px;transform:scaleX(1.0500);transform-origin:50% 50%;">0</div>
<div class="t" style="left:599.84px;top:267.00px;font-size:13.7px;transform:scaleX(1.0500);transform-origin:50% 50%;">0</div>
<div class="t" style="left:249.92px;top:309.40px;font-size:13.7px;transform:scaleX(1.0500);transform-origin:50% 50%;">104</div>
<div class="t" style="left:330.43px;top:309.40px;font-size:13.7px;transform:scaleX(1.0500);transform-origin:50% 50%;">44</div>
<div class="t" style="left:427.24px;top:309.40px;font-size:13.7px;transform:scaleX(1.0500);transform-origin:50% 50%;">0</div>
<div class="t" style="left:514.04px;top:309.40px;font-size:13.7px;transform:scaleX(1.0500);transform-origin:50% 50%;">0</div>
<div class="t" style="left:592.22px;top:309.40px;font-size:13.7px;transform:scaleX(1.0500);transform-origin:50% 50%;">148</div>
<div class="t" style="left:253.73px;top:339.40px;font-size:13.7px;transform:scaleX(1.0500);transform-origin:50% 50%;">12</div>
<div class="t" style="left:334.24px;top:339.40px;font-size:13.7px;transform:scaleX(1.0500);transform-origin:50% 50%;">4</div>
<div class="t" style="left:427.24px;top:339.40px;font-size:13.7px;transform:scaleX(1.0500);transform-origin:50% 50%;">1</div>
<div class="t" style="left:514.04px;top:339.40px;font-size:13.7px;transform:scaleX(1.0500);transform-origin:50% 50%;">0</div>
<div class="t" style="left:596.03px;top:339.40px;font-size:13.7px;transform:scaleX(1.0500);transform-origin:50% 50%;">17</div>
<div class="t" style="left:240.40px;top:366.40px;font-size:13.7px;transform:scaleX(1.0500);transform-origin:50% 50%;">10,145</div>
<div class="t" style="left:320.91px;top:366.40px;font-size:13.7px;transform:scaleX(1.0500);transform-origin:50% 50%;">2,905</div>
<div class="t" style="left:413.91px;top:366.40px;font-size:13.7px;transform:scaleX(1.0500);transform-origin:50% 50%;">2,758</div>
<div class="t" style="left:506.42px;top:366.40px;font-size:13.7px;transform:scaleX(1.0500);transform-origin:50% 50%;">413</div>
<div class="t" style="left:582.70px;top:366.40px;font-size:13.7px;transform:scaleX(1.0500);transform-origin:50% 50%;">16,221</div>
<svg width="1280" height="720" viewBox="0 0 1280 720" style="left:0;top:0">
<rect x="646.5" y="116.5" width="634" height="285" fill="#fff" stroke="#000" stroke-width="1"/>
<text x="963.7" y="140.9" font-size="10.9" font-weight="bold" fill="#262626" text-anchor="middle" textLength="479.5" lengthAdjust="spacingAndGlyphs">RMI, Majuro, Ebeye &amp; Neighboring Islands COVID-19 positive cases reported, Aug 8, 2022 - Oct 28, 2025</text>
<rect x="861.3" y="152" width="4.7" height="4.9" fill="#4472C4"/>
<text x="868.8" y="157.2" font-size="9.4" fill="#595959" textLength="26.7" lengthAdjust="spacingAndGlyphs">Majuro</text>
<rect x="957.5" y="152" width="4.7" height="4.9" fill="#ED7D31"/>
<text x="965.0" y="157.2" font-size="9.4" fill="#595959" textLength="23.5" lengthAdjust="spacingAndGlyphs">Ebeye</text>
<rect x="1050" y="152" width="4.7" height="4.9" fill="#A5A5A5"/>
<text x="1057.5" y="157.2" font-size="9.4" fill="#595959" textLength="9.5" lengthAdjust="spacingAndGlyphs">NI</text>
<line x1="696.5" x2="1262" y1="338.2" y2="338.2" stroke="#D9D9D9" stroke-width="0.8"/>
<text x="691" y="341.5" font-size="9" fill="#262626" text-anchor="end" textLength="3.9" lengthAdjust="spacingAndGlyphs">0</text>
<line x1="696.5" x2="1262" y1="316.9" y2="316.9" stroke="#D9D9D9" stroke-width="0.8"/>
<text x="691" y="320.2" font-size="9" fill="#262626" text-anchor="end" textLength="11.7" lengthAdjust="spacingAndGlyphs">200</text>
<line x1="696.5" x2="1262" y1="295.6" y2="295.6" stroke="#D9D9D9" stroke-width="0.8"/>
<text x="691" y="298.9" font-size="9" fill="#262626" text-anchor="end" textLength="11.7" lengthAdjust="spacingAndGlyphs">400</text>
<line x1="696.5" x2="1262" y1="274.4" y2="274.4" stroke="#D9D9D9" stroke-width="0.8"/>
<text x="691" y="277.7" font-size="9" fill="#262626" text-anchor="end" textLength="11.7" lengthAdjust="spacingAndGlyphs">600</text>
<line x1="696.5" x2="1262" y1="253.1" y2="253.1" stroke="#D9D9D9" stroke-width="0.8"/>
<text x="691" y="256.4" font-size="9" fill="#262626" text-anchor="end" textLength="11.7" lengthAdjust="spacingAndGlyphs">800</text>
<line x1="696.5" x2="1262" y1="231.8" y2="231.8" stroke="#D9D9D9" stroke-width="0.8"/>
<text x="691" y="235.1" font-size="9" fill="#262626" text-anchor="end" textLength="15.6" lengthAdjust="spacingAndGlyphs">1000</text>
<line x1="696.5" x2="1262" y1="210.5" y2="210.5" stroke="#D9D9D9" stroke-width="0.8"/>
<text x="691" y="213.8" font-size="9" fill="#262626" text-anchor="end" textLength="15.6" lengthAdjust="spacingAndGlyphs">1200</text>
<line x1="696.5" x2="1262" y1="189.3" y2="189.3" stroke="#D9D9D9" stroke-width="0.8"/>
<text x="691" y="192.6" font-size="9" fill="#262626" text-anchor="end" textLength="15.6" lengthAdjust="spacingAndGlyphs">1400</text>
<line x1="696.5" x2="1262" y1="168.0" y2="168.0" stroke="#D9D9D9" stroke-width="0.8"/>
<text x="691" y="171.3" font-size="9" fill="#262626" text-anchor="end" textLength="15.6" lengthAdjust="spacingAndGlyphs">1600</text>
<line x1="696.5" x2="696.5" y1="168" y2="338.2" stroke="#D0D0D0" stroke-width="0.8"/>
<text transform="translate(669.4,242.3) rotate(-90)" font-size="10.2" font-weight="bold" fill="#000" text-anchor="middle" textLength="159.5" lengthAdjust="spacingAndGlyphs">COVID-19  POSITIVE CASES REPORTED</text>
<polygon points="697.0,338.2 698.6,285.0 699.4,215.9 700.4,199.9 701.0,196.7 701.3,176.0 701.7,191.4 702.6,197.8 703.3,231.8 704.4,270.1 705.8,292.5 707.0,321.2 708.4,335.0 709.6,338.2" fill="#A5A5A5" opacity="1"/>
<polygon points="697.0,338.2 698.4,290.3 699.2,221.2 699.8,204.2 700.6,210.5 701.6,190.3 702.2,199.9 703.0,236.1 704.1,274.4 705.4,297.8 706.6,323.3 708.0,335.5 709.0,338.2" fill="#ED7D31" opacity="1"/>
<polygon points="697.1,338.2 697.7,306.3 698.5,278.6 699.3,261.6 699.9,231.8 700.5,225.4 701.0,242.5 701.6,256.3 702.4,261.6 703.2,278.6 704.2,302.0 705.2,318.0 706.2,330.8 707.4,338.2" fill="#4472C4" opacity="1"/>
<line x1="746.4" x2="746.4" y1="338.2" y2="328.4" stroke="#A5A5A5" stroke-width="0.7"/>
<line x1="712" x2="712" y1="338.2" y2="336.3" stroke="#C4C4C4" stroke-width="0.6"/>
<line x1="714.5" x2="714.5" y1="338.2" y2="335.5" stroke="#C4C4C4" stroke-width="0.6"/>
<line x1="716" x2="716" y1="338.2" y2="337.3" stroke="#C4C4C4" stroke-width="0.6"/>
<line x1="718" x2="718" y1="338.2" y2="334.8" stroke="#C4C4C4" stroke-width="0.6"/>
<line x1="719.5" x2="719.5" y1="338.2" y2="336.3" stroke="#C4C4C4" stroke-width="0.6"/>
<line x1="721" x2="721" y1="338.2" y2="337.3" stroke="#C4C4C4" stroke-width="0.6"/>
<line x1="723" x2="723" y1="338.2" y2="336.9" stroke="#C4C4C4" stroke-width="0.6"/>
<line x1="726" x2="726" y1="338.2" y2="337.3" stroke="#B4C7E7" stroke-width="0.6"/>
<line x1="729" x2="729" y1="338.2" y2="335.5" stroke="#C4C4C4" stroke-width="0.6"/>
<line x1="733" x2="733" y1="338.2" y2="336.9" stroke="#C4C4C4" stroke-width="0.6"/>
<line x1="737" x2="737" y1="338.2" y2="334.8" stroke="#B4C7E7" stroke-width="0.6"/>
<line x1="741" x2="741" y1="338.2" y2="337.3" stroke="#C4C4C4" stroke-width="0.6"/>
<line x1="744" x2="744" y1="338.2" y2="337.3" stroke="#C4C4C4" stroke-width="0.6"/>
<line x1="749" x2="749" y1="338.2" y2="334.8" stroke="#C4C4C4" stroke-width="0.6"/>
<line x1="752" x2="752" y1="338.2" y2="334.8" stroke="#C4C4C4" stroke-width="0.6"/>
<rect x="785" y="337.2" width="12" height="1" fill="#F4B183" opacity="0.7"/>
<rect x="797" y="337.2" width="15" height="1" fill="#8FAADC" opacity="0.7"/>
<rect x="812" y="337.2" width="6" height="1" fill="#BFBFBF" opacity="0.7"/>
<rect x="870" y="337.2" width="14" height="1" fill="#F4B183" opacity="0.7"/>
<rect x="884" y="337.2" width="6" height="1" fill="#BFBFBF" opacity="0.7"/>
<rect x="932" y="337.2" width="10" height="1" fill="#8FAADC" opacity="0.7"/>
<rect x="1021" y="337.2" width="5" height="1" fill="#BFBFBF" opacity="0.7"/>
<rect x="806" y="336" width="2.4" height="2.2" fill="#8FAADC" opacity="0.8"/>
<text transform="translate(701.5,351.5) rotate(-47)" font-size="9.2" font-weight="bold" fill="#404040" text-anchor="end">8/8/22</text>
<text transform="translate(730.5,351.5) rotate(-47)" font-size="9.2" font-weight="bold" fill="#404040" text-anchor="end">10/8/22</text>
<text transform="translate(759.5,351.5) rotate(-47)" font-size="9.2" font-weight="bold" fill="#404040" text-anchor="end">12/8/22</text>
<text transform="translate(788.6,351.5) rotate(-47)" font-size="9.2" font-weight="bold" fill="#404040" text-anchor="end">2/8/23</text>
<text transform="translate(817.6,351.5) rotate(-47)" font-size="9.2" font-weight="bold" fill="#404040" text-anchor="end">4/8/23</text>
<text transform="translate(846.6,351.5) rotate(-47)" font-size="9.2" font-weight="bold" fill="#404040" text-anchor="end">6/8/23</text>
<text transform="translate(875.6,351.5) rotate(-47)" font-size="9.2" font-weight="bold" fill="#404040" text-anchor="end">8/8/23</text>
<text transform="translate(904.6,351.5) rotate(-47)" font-size="9.2" font-weight="bold" fill="#404040" text-anchor="end">10/8/23</text>
<text transform="translate(933.7,351.5) rotate(-47)" font-size="9.2" font-weight="bold" fill="#404040" text-anchor="end">12/8/23</text>
<text transform="translate(962.7,351.5) rotate(-47)" font-size="9.2" font-weight="bold" fill="#404040" text-anchor="end">2/8/24</text>
<text transform="translate(991.7,351.5) rotate(-47)" font-size="9.2" font-weight="bold" fill="#404040" text-anchor="end">4/8/24</text>
<text transform="translate(1020.7,351.5) rotate(-47)" font-size="9.2" font-weight="bold" fill="#404040" text-anchor="end">6/8/24</text>
<text transform="translate(1049.7,351.5) rotate(-47)" font-size="9.2" font-weight="bold" fill="#404040" text-anchor="end">8/8/24</text>
<text transform="translate(1078.8,351.5) rotate(-47)" font-size="9.2" font-weight="bold" fill="#404040" text-anchor="end">10/8/24</text>
<text transform="translate(1107.8,351.5) rotate(-47)" font-size="9.2" font-weight="bold" fill="#404040" text-anchor="end">12/8/24</text>
<text transform="translate(1136.8,351.5) rotate(-47)" font-size="9.2" font-weight="bold" fill="#404040" text-anchor="end">2/8/25</text>
<text transform="translate(1165.8,351.5) rotate(-47)" font-size="9.2" font-weight="bold" fill="#404040" text-anchor="end">4/8/25</text>
<text transform="translate(1194.8,351.5) rotate(-47)" font-size="9.2" font-weight="bold" fill="#404040" text-anchor="end">6/8/25</text>
<text transform="translate(1223.9,351.5) rotate(-47)" font-size="9.2" font-weight="bold" fill="#404040" text-anchor="end">8/8/25</text>
<text transform="translate(1252.9,351.5) rotate(-47)" font-size="9.2" font-weight="bold" fill="#404040" text-anchor="end">10/8/25</text>
<text x="979.5" y="383.7" font-size="9.2" font-weight="bold" fill="#000" text-anchor="middle" textLength="59" lengthAdjust="spacingAndGlyphs">DATE REPORTED</text>
<rect x="777.3" y="168.2" width="489.2" height="157.5" fill="#fff" stroke="#D9D9D9" stroke-width="1"/>
<line x1="816" x2="1262.5" y1="279.5" y2="279.5" stroke="#DEDEDE" stroke-width="0.8"/>
<text x="807.5" y="281.9" font-size="6.4" font-weight="bold" fill="#404040" text-anchor="middle">0</text>
<line x1="816" x2="1262.5" y1="267.1" y2="267.1" stroke="#DEDEDE" stroke-width="0.8"/>
<text x="807.5" y="269.5" font-size="6.4" font-weight="bold" fill="#404040" text-anchor="middle">1</text>
<line x1="816" x2="1262.5" y1="254.6" y2="254.6" stroke="#DEDEDE" stroke-width="0.8"/>
<text x="807.5" y="257.0" font-size="6.4" font-weight="bold" fill="#404040" text-anchor="middle">2</text>
<line x1="816" x2="1262.5" y1="242.2" y2="242.2" stroke="#DEDEDE" stroke-width="0.8"/>
<text x="807.5" y="244.6" font-size="6.4" font-weight="bold" fill="#404040" text-anchor="middle">3</text>
<line x1="816" x2="1262.5" y1="229.7" y2="229.7" stroke="#DEDEDE" stroke-width="0.8"/>
<text x="807.5" y="232.1" font-size="6.4" font-weight="bold" fill="#404040" text-anchor="middle">4</text>
<line x1="816" x2="1262.5" y1="217.3" y2="217.3" stroke="#DEDEDE" stroke-width="0.8"/>
<text x="807.5" y="219.7" font-size="6.4" font-weight="bold" fill="#404040" text-anchor="middle">5</text>
<line x1="816" x2="1262.5" y1="204.9" y2="204.9" stroke="#DEDEDE" stroke-width="0.8"/>
<text x="807.5" y="207.3" font-size="6.4" font-weight="bold" fill="#404040" text-anchor="middle">6</text>
<line x1="816" x2="1262.5" y1="192.4" y2="192.4" stroke="#DEDEDE" stroke-width="0.8"/>
<text x="807.5" y="194.8" font-size="6.4" font-weight="bold" fill="#404040" text-anchor="middle">7</text>
<line x1="816" x2="1262.5" y1="180.0" y2="180.0" stroke="#DEDEDE" stroke-width="0.8"/>
<text x="807.5" y="182.4" font-size="6.4" font-weight="bold" fill="#404040" text-anchor="middle">8</text>
<text transform="translate(818.8,284.5) rotate(-90)" font-size="7.6" font-weight="bold" fill="#333" text-anchor="end">1/15/24</text>
<text transform="translate(836.0,284.5) rotate(-90)" font-size="7.6" font-weight="bold" fill="#333" text-anchor="end">2/9/24</text>
<text transform="translate(853.1,284.5) rotate(-90)" font-size="7.6" font-weight="bold" fill="#333" text-anchor="end">3/5/24</text>
<text transform="translate(870.3,284.5) rotate(-90)" font-size="7.6" font-weight="bold" fill="#333" text-anchor="end">3/30/24</text>
<text transform="translate(887.5,284.5) rotate(-90)" font-size="7.6" font-weight="bold" fill="#333" text-anchor="end">4/24/24</text>
<text transform="translate(904.7,284.5) rotate(-90)" font-size="7.6" font-weight="bold" fill="#333" text-anchor="end">5/19/24</text>
<text transform="translate(921.8,284.5) rotate(-90)" font-size="7.6" font-weight="bold" fill="#333" text-anchor="end">6/13/24</text>
<text transform="translate(939.0,284.5) rotate(-90)" font-size="7.6" font-weight="bold" fill="#333" text-anchor="end">7/8/24</text>
<text transform="translate(956.2,284.5) rotate(-90)" font-size="7.6" font-weight="bold" fill="#333" text-anchor="end">8/2/24</text>
<text transform="translate(973.3,284.5) rotate(-90)" font-size="7.6" font-weight="bold" fill="#333" text-anchor="end">8/27/24</text>
<text transform="translate(990.5,284.5) rotate(-90)" font-size="7.6" font-weight="bold" fill="#333" text-anchor="end">9/21/24</text>
<text transform="translate(1007.7,284.5) rotate(-90)" font-size="7.6" font-weight="bold" fill="#333" text-anchor="end">10/16/24</text>
<text transform="translate(1024.8,284.5) rotate(-90)" font-size="7.6" font-weight="bold" fill="#333" text-anchor="end">11/10/24</text>
<text transform="translate(1042.0,284.5) rotate(-90)" font-size="7.6" font-weight="bold" fill="#333" text-anchor="end">12/5/24</text>
<text transform="translate(1059.2,284.5) rotate(-90)" font-size="7.6" font-weight="bold" fill="#333" text-anchor="end">12/30/24</text>
<text transform="translate(1076.3,284.5) rotate(-90)" font-size="7.6" font-weight="bold" fill="#333" text-anchor="end">1/24/25</text>
<text transform="translate(1093.5,284.5) rotate(-90)" font-size="7.6" font-weight="bold" fill="#333" text-anchor="end">2/18/25</text>
<text transform="translate(1110.7,284.5) rotate(-90)" font-size="7.6" font-weight="bold" fill="#333" text-anchor="end">3/15/25</text>
<text transform="translate(1127.9,284.5) rotate(-90)" font-size="7.6" font-weight="bold" fill="#333" text-anchor="end">4/9/25</text>
<text transform="translate(1145.0,284.5) rotate(-90)" font-size="7.6" font-weight="bold" fill="#333" text-anchor="end">5/4/25</text>
<text transform="translate(1162.2,284.5) rotate(-90)" font-size="7.6" font-weight="bold" fill="#333" text-anchor="end">5/29/25</text>
<text transform="translate(1179.4,284.5) rotate(-90)" font-size="7.6" font-weight="bold" fill="#333" text-anchor="end">6/23/25</text>
<text transform="translate(1196.5,284.5) rotate(-90)" font-size="7.6" font-weight="bold" fill="#333" text-anchor="end">7/18/25</text>
<text transform="translate(1213.7,284.5) rotate(-90)" font-size="7.6" font-weight="bold" fill="#333" text-anchor="end">8/12/25</text>
<text transform="translate(1230.9,284.5) rotate(-90)" font-size="7.6" font-weight="bold" fill="#333" text-anchor="end">9/6/25</text>
<text transform="translate(1248.0,284.5) rotate(-90)" font-size="7.6" font-weight="bold" fill="#333" text-anchor="end">10/1/25</text>
<text transform="translate(1265.2,284.5) rotate(-90)" font-size="7.6" font-weight="bold" fill="#333" text-anchor="end">10/26/25</text>
<rect x="820.2" y="267.1" width="0.6" height="12.4" fill="#6F93D2" opacity="1"/>
<rect x="918.7" y="267.1" width="2.2" height="12.4" fill="#5B84CC" opacity="1"/>
<rect x="921.2" y="254.6" width="0.6" height="24.9" fill="#7FA0D8" opacity="1"/>
<rect x="922" y="267.1" width="2" height="12.4" fill="#5B84CC" opacity="1"/>
<rect x="924" y="229.7" width="1" height="49.8" fill="#7FA0D8" opacity="1"/>
<rect x="924.4" y="217.3" width="0.9" height="62.2" fill="#8FAADC" opacity="1"/>
<rect x="925.5" y="204.9" width="0.8" height="74.6" fill="#7FA0D8" opacity="1"/>
<rect x="926.4" y="217.3" width="0.8" height="62.2" fill="#8FAADC" opacity="1"/>
<rect x="924.2" y="267.1" width="0.8" height="12.4" fill="#2F5597" opacity="1"/>
<rect x="1136.2" y="254.6" width="0.6" height="24.9" fill="#7FA0D8" opacity="1"/>
</svg>
<div class="r" style="left:0px;top:402px;width:1280px;height:41.5px;background:#E9EAED;"></div>
<div class="r" style="left:0px;top:443.5px;width:1280px;height:170.5px;background:#fff;"></div>
<div class="r" style="left:0px;top:401.1px;width:1280px;height:1px;background:#111;"></div>
<div class="r" style="left:0px;top:442.7px;width:1280px;height:1px;background:#111;"></div>
<div class="r" style="left:0px;top:470.0px;width:1280px;height:1px;background:#111;"></div>
<div class="r" style="left:0px;top:497.0px;width:1280px;height:1px;background:#111;"></div>
<div class="r" style="left:0px;top:523.8px;width:1280px;height:1px;background:#111;"></div>
<div class="r" style="left:0px;top:563.8px;width:1280px;height:1px;background:#111;"></div>
<div class="r" style="left:0px;top:585.0px;width:1280px;height:1px;background:#111;"></div>
<div class="r" style="left:0px;top:613.0px;width:1280px;height:1px;background:#111;"></div>
<div class="r" style="left:0.0px;top:401px;width:1px;height:213px;background:#8a8a8a;"></div>
<div class="r" style="left:171.0px;top:401px;width:1px;height:213px;background:#111;"></div>
<div class="r" style="left:259.0px;top:401px;width:1px;height:213px;background:#111;"></div>
<div class="r" style="left:310.7px;top:401px;width:1px;height:213px;background:#111;"></div>
<div class="r" style="left:375.0px;top:401px;width:1px;height:213px;background:#111;"></div>
<div class="r" style="left:439.9px;top:401px;width:1px;height:213px;background:#111;"></div>
<div class="r" style="left:504.3px;top:401px;width:1px;height:213px;background:#111;"></div>
<div class="r" style="left:569.0px;top:401px;width:1px;height:213px;background:#111;"></div>
<div class="r" style="left:633.8px;top:401px;width:1px;height:213px;background:#111;"></div>
<div class="r" style="left:715.5px;top:401px;width:1px;height:213px;background:#111;"></div>
<div class="r" style="left:769.0px;top:401px;width:1px;height:213px;background:#111;"></div>
<div class="r" style="left:827.0px;top:401px;width:1px;height:213px;background:#111;"></div>
<div class="r" style="left:901.0px;top:401px;width:1px;height:213px;background:#111;"></div>
<div class="r" style="left:956.5px;top:401px;width:1px;height:213px;background:#111;"></div>
<div class="r" style="left:1021.0px;top:401px;width:1px;height:213px;background:#111;"></div>
<div class="r" style="left:1086.0px;top:401px;width:1px;height:213px;background:#111;"></div>
<div class="r" style="left:1150.5px;top:401px;width:1px;height:213px;background:#111;"></div>
<div class="r" style="left:1215.0px;top:401px;width:1px;height:213px;background:#111;"></div>
<div class="r" style="left:1279.0px;top:401px;width:1px;height:213px;background:#8a8a8a;"></div>
<div class="t" style="left:12.98px;top:417.03px;font-size:10.6px;transform:scaleX(0.9449);transform-origin:50% 50%;">NEIGHBORING ISLANDS (NI)</div>
<div class="t" style="left:186.94px;top:410.23px;font-size:10.6px;transform:scaleX(0.9243);transform-origin:50% 50%;">AILINGLAP</div>
<div class="t" style="left:204.90px;top:425.23px;font-size:10.6px;transform:scaleX(0.9300);transform-origin:50% 50%;">LAP</div>
<div class="t" style="left:269.16px;top:417.03px;font-size:10.6px;transform:scaleX(0.9263);transform-origin:50% 50%;">AILUK</div>
<div class="t" style="left:327.74px;top:417.03px;font-size:10.6px;transform:scaleX(0.9548);transform-origin:50% 50%;">ARNO</div>
<div class="t" style="left:396.47px;top:417.03px;font-size:10.6px;transform:scaleX(0.9449);transform-origin:50% 50%;">AUR</div>
<div class="t" style="left:457.29px;top:417.03px;font-size:10.6px;transform:scaleX(0.9469);transform-origin:50% 50%;">EBON</div>
<div class="t" style="left:507.22px;top:417.03px;font-size:10.6px;transform:scaleX(0.9354);transform-origin:50% 50%;">ENEWETAK</div>
<div class="t" style="left:583.94px;top:417.03px;font-size:10.6px;transform:scaleX(0.9300);transform-origin:50% 50%;">JABOT</div>
<div class="t" style="left:656.60px;top:417.03px;font-size:10.6px;transform:scaleX(0.8841);transform-origin:50% 50%;">JALUIT</div>
<div class="t" style="left:732.74px;top:417.03px;font-size:10.6px;transform:scaleX(0.9300);transform-origin:50% 50%;">KILI</div>
<div class="t" style="left:781.42px;top:417.03px;font-size:10.6px;transform:scaleX(0.9300);transform-origin:50% 50%;">LIKIEP</div>
<div class="t" style="left:845.36px;top:410.23px;font-size:10.6px;transform:scaleX(0.9300);transform-origin:50% 50%;">MALOE</div>
<div class="t" style="left:853.90px;top:425.23px;font-size:10.6px;transform:scaleX(0.9300);transform-origin:50% 50%;">LAP</div>
<div class="t" style="left:918.65px;top:417.03px;font-size:10.6px;transform:scaleX(0.9300);transform-origin:50% 50%;">MILI</div>
<div class="t" style="left:973.64px;top:417.03px;font-size:10.6px;transform:scaleX(0.9300);transform-origin:50% 50%;">MEJIT</div>
<div class="t" style="left:1038.10px;top:417.03px;font-size:10.6px;transform:scaleX(0.9300);transform-origin:50% 50%;">NAMU</div>
<div class="t" style="left:1102.56px;top:417.03px;font-size:10.6px;transform:scaleX(0.9300);transform-origin:50% 50%;">UTRIK</div>
<div class="t" style="left:1170.89px;top:410.23px;font-size:10.6px;transform:scaleX(0.9300);transform-origin:50% 50%;">WOT</div>
<div class="t" style="left:1175.30px;top:425.23px;font-size:10.6px;transform:scaleX(0.9300);transform-origin:50% 50%;">HO</div>
<div class="t" style="left:1235.14px;top:410.23px;font-size:10.6px;transform:scaleX(0.9300);transform-origin:50% 50%;">WOT</div>
<div class="t" style="left:1241.02px;top:425.23px;font-size:10.6px;transform:scaleX(0.9300);transform-origin:50% 50%;">JE</div>
<div class="t" style="left:2.00px;top:452.21px;font-size:11.8px;transform:scaleX(0.9069);transform-origin:0 50%;">NEW CASES (LAST 7 DAYS)</div>
<div class="t" style="left:2.00px;top:478.51px;font-size:11.8px;transform:scaleX(0.9110);transform-origin:0 50%;">CUMULATIVE CASES</div>
<div class="t" style="left:2.00px;top:506.01px;font-size:11.8px;transform:scaleX(0.9070);transform-origin:0 50%;">CURRENTLY HOSPITALIZED</div>
<div class="t" style="left:2.00px;top:540.01px;font-size:11.8px;transform:scaleX(0.9253);transform-origin:0 50%;">DISCHARGED FROM HOSPITAL</div>
<div class="t" style="left:2.00px;top:570.01px;font-size:11.8px;transform:scaleX(0.9186);transform-origin:0 50%;">TOTAL DEATHS</div>
<div class="t" style="left:2.00px;top:595.01px;font-size:11.8px;transform:scaleX(0.8656);transform-origin:0 50%;">RECOVERED</div>
<div class="t" style="left:211.69px;top:450.60px;font-size:13.7px;transform:scaleX(1.0400);transform-origin:50% 50%;">0</div>
<div class="t" style="left:281.54px;top:450.60px;font-size:13.7px;transform:scaleX(1.0400);transform-origin:50% 50%;">0</div>
<div class="t" style="left:339.54px;top:450.60px;font-size:13.7px;transform:scaleX(1.0400);transform-origin:50% 50%;">0</div>
<div class="t" style="left:404.14px;top:450.60px;font-size:13.7px;transform:scaleX(1.0400);transform-origin:50% 50%;">0</div>
<div class="t" style="left:468.79px;top:450.60px;font-size:13.7px;transform:scaleX(1.0400);transform-origin:50% 50%;">0</div>
<div class="t" style="left:533.34px;top:450.60px;font-size:13.7px;transform:scaleX(1.0400);transform-origin:50% 50%;">0</div>
<div class="t" style="left:598.09px;top:450.60px;font-size:13.7px;transform:scaleX(1.0400);transform-origin:50% 50%;">0</div>
<div class="t" style="left:671.34px;top:450.60px;font-size:13.7px;transform:scaleX(1.0400);transform-origin:50% 50%;">0</div>
<div class="t" style="left:738.94px;top:450.60px;font-size:13.7px;transform:scaleX(1.0400);transform-origin:50% 50%;">0</div>
<div class="t" style="left:794.69px;top:450.60px;font-size:13.7px;transform:scaleX(1.0400);transform-origin:50% 50%;">0</div>
<div class="t" style="left:860.69px;top:450.60px;font-size:13.7px;transform:scaleX(1.0400);transform-origin:50% 50%;">0</div>
<div class="t" style="left:925.44px;top:450.60px;font-size:13.7px;transform:scaleX(1.0400);transform-origin:50% 50%;">0</div>
<div class="t" style="left:985.44px;top:450.60px;font-size:13.7px;transform:scaleX(1.0400);transform-origin:50% 50%;">0</div>
<div class="t" style="left:1050.19px;top:450.60px;font-size:13.7px;transform:scaleX(1.0400);transform-origin:50% 50%;">0</div>
<div class="t" style="left:1114.94px;top:450.60px;font-size:13.7px;transform:scaleX(1.0400);transform-origin:50% 50%;">0</div>
<div class="t" style="left:1179.44px;top:450.60px;font-size:13.7px;transform:scaleX(1.0400);transform-origin:50% 50%;">0</div>
<div class="t" style="left:1243.69px;top:450.60px;font-size:13.7px;transform:scaleX(1.0400);transform-origin:50% 50%;">0</div>
<div class="t" style="left:204.07px;top:476.90px;font-size:13.7px;transform:scaleX(1.0400);transform-origin:50% 50%;">244</div>
<div class="t" style="left:273.92px;top:476.90px;font-size:13.7px;transform:scaleX(1.0400);transform-origin:50% 50%;">198</div>
<div class="t" style="left:331.92px;top:476.90px;font-size:13.7px;transform:scaleX(1.0400);transform-origin:50% 50%;">390</div>
<div class="t" style="left:396.52px;top:476.90px;font-size:13.7px;transform:scaleX(1.0400);transform-origin:50% 50%;">150</div>
<div class="t" style="left:464.98px;top:476.90px;font-size:13.7px;transform:scaleX(1.0400);transform-origin:50% 50%;">13</div>
<div class="t" style="left:529.53px;top:476.90px;font-size:13.7px;transform:scaleX(1.0400);transform-origin:50% 50%;">48</div>
<div class="t" style="left:594.28px;top:476.90px;font-size:13.7px;transform:scaleX(1.0400);transform-origin:50% 50%;">13</div>
<div class="t" style="left:663.72px;top:476.90px;font-size:13.7px;transform:scaleX(1.0400);transform-origin:50% 50%;">788</div>
<div class="t" style="left:738.94px;top:476.90px;font-size:13.7px;transform:scaleX(1.0400);transform-origin:50% 50%;">7</div>
<div class="t" style="left:790.88px;top:476.90px;font-size:13.7px;transform:scaleX(1.0400);transform-origin:50% 50%;">28</div>
<div class="t" style="left:853.07px;top:476.90px;font-size:13.7px;transform:scaleX(1.0400);transform-origin:50% 50%;">220</div>
<div class="t" style="left:921.63px;top:476.90px;font-size:13.7px;transform:scaleX(1.0400);transform-origin:50% 50%;">79</div>
<div class="t" style="left:978.20px;top:476.90px;font-size:13.7px;transform:scaleX(1.0400);transform-origin:50% 50%;">115</div>
<div class="t" style="left:1050.19px;top:476.90px;font-size:13.7px;transform:scaleX(1.0400);transform-origin:50% 50%;">1</div>
<div class="t" style="left:1107.32px;top:476.90px;font-size:13.7px;transform:scaleX(1.0400);transform-origin:50% 50%;">102</div>
<div class="t" style="left:1175.63px;top:476.90px;font-size:13.7px;transform:scaleX(1.0400);transform-origin:50% 50%;">18</div>
<div class="t" style="left:1236.07px;top:476.90px;font-size:13.7px;transform:scaleX(1.0400);transform-origin:50% 50%;">345</div>
<div class="t" style="left:211.69px;top:504.40px;font-size:13.7px;transform:scaleX(1.0400);transform-origin:50% 50%;">0</div>
<div class="t" style="left:281.54px;top:504.40px;font-size:13.7px;transform:scaleX(1.0400);transform-origin:50% 50%;">0</div>
<div class="t" style="left:339.54px;top:504.40px;font-size:13.7px;transform:scaleX(1.0400);transform-origin:50% 50%;">0</div>
<div class="t" style="left:404.14px;top:504.40px;font-size:13.7px;transform:scaleX(1.0400);transform-origin:50% 50%;">0</div>
<div class="t" style="left:468.79px;top:504.40px;font-size:13.7px;transform:scaleX(1.0400);transform-origin:50% 50%;">0</div>
<div class="t" style="left:533.34px;top:504.40px;font-size:13.7px;transform:scaleX(1.0400);transform-origin:50% 50%;">0</div>
<div class="t" style="left:598.09px;top:504.40px;font-size:13.7px;transform:scaleX(1.0400);transform-origin:50% 50%;">0</div>
<div class="t" style="left:671.34px;top:504.40px;font-size:13.7px;transform:scaleX(1.0400);transform-origin:50% 50%;">0</div>
<div class="t" style="left:738.94px;top:504.40px;font-size:13.7px;transform:scaleX(1.0400);transform-origin:50% 50%;">0</div>
<div class="t" style="left:794.69px;top:504.40px;font-size:13.7px;transform:scaleX(1.0400);transform-origin:50% 50%;">0</div>
<div class="t" style="left:860.69px;top:504.40px;font-size:13.7px;transform:scaleX(1.0400);transform-origin:50% 50%;">0</div>
<div class="t" style="left:925.44px;top:504.40px;font-size:13.7px;transform:scaleX(1.0400);transform-origin:50% 50%;">0</div>
<div class="t" style="left:985.44px;top:504.40px;font-size:13.7px;transform:scaleX(1.0400);transform-origin:50% 50%;">0</div>
<div class="t" style="left:1050.19px;top:504.40px;font-size:13.7px;transform:scaleX(1.0400);transform-origin:50% 50%;">0</div>
<div class="t" style="left:1114.94px;top:504.40px;font-size:13.7px;transform:scaleX(1.0400);transform-origin:50% 50%;">0</div>
<div class="t" style="left:1179.44px;top:504.40px;font-size:13.7px;transform:scaleX(1.0400);transform-origin:50% 50%;">0</div>
<div class="t" style="left:1243.69px;top:504.40px;font-size:13.7px;transform:scaleX(1.0400);transform-origin:50% 50%;">0</div>
<div class="t" style="left:211.69px;top:538.40px;font-size:13.7px;transform:scaleX(1.0400);transform-origin:50% 50%;">0</div>
<div class="t" style="left:281.54px;top:538.40px;font-size:13.7px;transform:scaleX(1.0400);transform-origin:50% 50%;">0</div>
<div class="t" style="left:339.54px;top:538.40px;font-size:13.7px;transform:scaleX(1.0400);transform-origin:50% 50%;">0</div>
<div class="t" style="left:404.14px;top:538.40px;font-size:13.7px;transform:scaleX(1.0400);transform-origin:50% 50%;">0</div>
<div class="t" style="left:468.79px;top:538.40px;font-size:13.7px;transform:scaleX(1.0400);transform-origin:50% 50%;">0</div>
<div class="t" style="left:533.34px;top:538.40px;font-size:13.7px;transform:scaleX(1.0400);transform-origin:50% 50%;">0</div>
<div class="t" style="left:598.09px;top:538.40px;font-size:13.7px;transform:scaleX(1.0400);transform-origin:50% 50%;">0</div>
<div class="t" style="left:671.34px;top:538.40px;font-size:13.7px;transform:scaleX(1.0400);transform-origin:50% 50%;">0</div>
<div class="t" style="left:738.94px;top:538.40px;font-size:13.7px;transform:scaleX(1.0400);transform-origin:50% 50%;">0</div>
<div class="t" style="left:794.69px;top:538.40px;font-size:13.7px;transform:scaleX(1.0400);transform-origin:50% 50%;">0</div>
<div class="t" style="left:860.69px;top:538.40px;font-size:13.7px;transform:scaleX(1.0400);transform-origin:50% 50%;">0</div>
<div class="t" style="left:925.44px;top:538.40px;font-size:13.7px;transform:scaleX(1.0400);transform-origin:50% 50%;">0</div>
<div class="t" style="left:985.44px;top:538.40px;font-size:13.7px;transform:scaleX(1.0400);transform-origin:50% 50%;">0</div>
<div class="t" style="left:1050.19px;top:538.40px;font-size:13.7px;transform:scaleX(1.0400);transform-origin:50% 50%;">0</div>
<div class="t" style="left:1114.94px;top:538.40px;font-size:13.7px;transform:scaleX(1.0400);transform-origin:50% 50%;">0</div>
<div class="t" style="left:1179.44px;top:538.40px;font-size:13.7px;transform:scaleX(1.0400);transform-origin:50% 50%;">0</div>
<div class="t" style="left:1243.69px;top:538.40px;font-size:13.7px;transform:scaleX(1.0400);transform-origin:50% 50%;">0</div>
<div class="t" style="left:211.69px;top:568.40px;font-size:13.7px;transform:scaleX(1.0400);transform-origin:50% 50%;">0</div>
<div class="t" style="left:281.54px;top:568.40px;font-size:13.7px;transform:scaleX(1.0400);transform-origin:50% 50%;">0</div>
<div class="t" style="left:339.54px;top:568.40px;font-size:13.7px;transform:scaleX(1.0400);transform-origin:50% 50%;">0</div>
<div class="t" style="left:404.14px;top:568.40px;font-size:13.7px;transform:scaleX(1.0400);transform-origin:50% 50%;">0</div>
<div class="t" style="left:468.79px;top:568.40px;font-size:13.7px;transform:scaleX(1.0400);transform-origin:50% 50%;">0</div>
<div class="t" style="left:533.34px;top:568.40px;font-size:13.7px;transform:scaleX(1.0400);transform-origin:50% 50%;">0</div>
<div class="t" style="left:598.09px;top:568.40px;font-size:13.7px;transform:scaleX(1.0400);transform-origin:50% 50%;">0</div>
<div class="t" style="left:671.34px;top:568.40px;font-size:13.7px;transform:scaleX(1.0400);transform-origin:50% 50%;">0</div>
<div class="t" style="left:738.94px;top:568.40px;font-size:13.7px;transform:scaleX(1.0400);transform-origin:50% 50%;">0</div>
<div class="t" style="left:794.69px;top:568.40px;font-size:13.7px;transform:scaleX(1.0400);transform-origin:50% 50%;">0</div>
<div class="t" style="left:860.69px;top:568.40px;font-size:13.7px;transform:scaleX(1.0400);transform-origin:50% 50%;">0</div>
<div class="t" style="left:925.44px;top:568.40px;font-size:13.7px;transform:scaleX(1.0400);transform-origin:50% 50%;">0</div>
<div class="t" style="left:985.44px;top:568.40px;font-size:13.7px;transform:scaleX(1.0400);transform-origin:50% 50%;">0</div>
<div class="t" style="left:1050.19px;top:568.40px;font-size:13.7px;transform:scaleX(1.0400);transform-origin:50% 50%;">0</div>
<div class="t" style="left:1114.94px;top:568.40px;font-size:13.7px;transform:scaleX(1.0400);transform-origin:50% 50%;">0</div>
<div class="t" style="left:1179.44px;top:568.40px;font-size:13.7px;transform:scaleX(1.0400);transform-origin:50% 50%;">0</div>
<div class="t" style="left:1243.69px;top:568.40px;font-size:13.7px;transform:scaleX(1.0400);transform-origin:50% 50%;">1</div>
<div class="t" style="left:204.07px;top:593.40px;font-size:13.7px;transform:scaleX(1.0400);transform-origin:50% 50%;">244</div>
<div class="t" style="left:273.92px;top:593.40px;font-size:13.7px;transform:scaleX(1.0400);transform-origin:50% 50%;">198</div>
<div class="t" style="left:331.92px;top:593.40px;font-size:13.7px;transform:scaleX(1.0400);transform-origin:50% 50%;">390</div>
<div class="t" style="left:396.52px;top:593.40px;font-size:13.7px;transform:scaleX(1.0400);transform-origin:50% 50%;">150</div>
<div class="t" style="left:464.98px;top:593.40px;font-size:13.7px;transform:scaleX(1.0400);transform-origin:50% 50%;">13</div>
<div class="t" style="left:529.53px;top:593.40px;font-size:13.7px;transform:scaleX(1.0400);transform-origin:50% 50%;">48</div>
<div class="t" style="left:594.28px;top:593.40px;font-size:13.7px;transform:scaleX(1.0400);transform-origin:50% 50%;">13</div>
<div class="t" style="left:663.72px;top:593.40px;font-size:13.7px;transform:scaleX(1.0400);transform-origin:50% 50%;">788</div>
<div class="t" style="left:738.94px;top:593.40px;font-size:13.7px;transform:scaleX(1.0400);transform-origin:50% 50%;">7</div>
<div class="t" style="left:790.88px;top:593.40px;font-size:13.7px;transform:scaleX(1.0400);transform-origin:50% 50%;">28</div>
<div class="t" style="left:853.07px;top:593.40px;font-size:13.7px;transform:scaleX(1.0400);transform-origin:50% 50%;">220</div>
<div class="t" style="left:921.63px;top:593.40px;font-size:13.7px;transform:scaleX(1.0400);transform-origin:50% 50%;">79</div>
<div class="t" style="left:978.20px;top:593.40px;font-size:13.7px;transform:scaleX(1.0400);transform-origin:50% 50%;">115</div>
<div class="t" style="left:1050.19px;top:593.40px;font-size:13.7px;transform:scaleX(1.0400);transform-origin:50% 50%;">1</div>
<div class="t" style="left:1107.32px;top:593.40px;font-size:13.7px;transform:scaleX(1.0400);transform-origin:50% 50%;">102</div>
<div class="t" style="left:1175.63px;top:593.40px;font-size:13.7px;transform:scaleX(1.0400);transform-origin:50% 50%;">18</div>
<div class="t" style="left:1236.07px;top:593.40px;font-size:13.7px;transform:scaleX(1.0400);transform-origin:50% 50%;">344</div>
<div class="r" style="left:0px;top:614px;width:1280px;height:106px;background:#02328C;"></div>
<div class="t" style="left:78.45px;top:644.13px;font-size:15.8px;color:#fff;transform:scaleX(1.0928);transform-origin:50% 50%;">FOR COVID-19 INFORMATION</div>
<div class="t" style="left:101.30px;top:667.13px;font-size:15.8px;color:#fff;transform:scaleX(1.0564);transform-origin:50% 50%;">PLEASE CALL 625-3632</div>
<div class="t" style="left:394.60px;top:641.29px;font-size:15.6px;font-weight:normal;color:#fff;transform:scaleX(1.1606);transform-origin:0 50%;">Call the National Disaster Management</div>
<div class="t" style="left:394.60px;top:661.79px;font-size:15.6px;font-weight:normal;color:#fff;transform:scaleX(1.1396);transform-origin:0 50%;">Office 625-6366 Monday- Friday | 8AM-</div>
<div class="t" style="left:394.60px;top:681.49px;font-size:15.6px;font-weight:normal;color:#fff;transform:scaleX(1.0787);transform-origin:0 50%;">5PM</div>
<div class="t" style="left:787.70px;top:643.54px;font-size:12px;font-weight:normal;color:#E8EEFF;letter-spacing:1px;transform:scaleX(1.0949);transform-origin:0 50%;">@rmimoh</div>
<div class="t" style="left:787.70px;top:670.84px;font-size:12px;font-weight:normal;color:#E8EEFF;letter-spacing:1px;transform:scaleX(1.0804);transform-origin:0 50%;">@mohhsrmi</div>
<svg width="1280" height="720" viewBox="0 0 1280 720" style="left:0;top:0">
<defs>
<linearGradient id="fbg" x1="0" x2="0" y1="0" y2="1"><stop offset="0" stop-color="#6D86BE"/><stop offset="0.45" stop-color="#5673B2"/><stop offset="0.5" stop-color="#4765A8"/><stop offset="1" stop-color="#4A68AC"/></linearGradient>
<linearGradient id="igg" x1="0.15" y1="1" x2="0.85" y2="0"><stop offset="0" stop-color="#FDC649"/><stop offset="0.3" stop-color="#F26A3C"/><stop offset="0.6" stop-color="#D93A84"/><stop offset="1" stop-color="#7B45C6"/></linearGradient>
</defs>
<rect x="751.4" y="641.2" width="25.4" height="17.8" rx="2.6" fill="url(#fbg)" stroke="#7C92C8" stroke-width="0.8"/>
<path transform="translate(-3.2,0)" d="M769.6,659 V651.6 H766.6 V648.9 H769.6 V647.4 Q769.6,643.6 773.6,643.6 H775.6 V646.3 H774.2 Q772.9,646.3 772.9,647.6 V648.9 H775.5 L775.1,651.6 H772.9 V659 Z" fill="#fff"/>
<rect x="751.4" y="664.2" width="25.4" height="18.6" rx="4" fill="url(#igg)"/>
<rect x="755.2" y="666.8" width="17.8" height="13.4" rx="3.6" fill="none" stroke="#fff" stroke-width="1.4"/>
<ellipse cx="764.1" cy="673.5" rx="4.6" ry="3.4" fill="none" stroke="#fff" stroke-width="1.4"/>
<circle cx="769.6" cy="669.3" r="0.9" fill="#fff"/>
</svg>

<div class="t" style="left:921.20px;top:641.76px;font-size:15.3px;color:#fff;font-family:'DejaVu Serif',serif;transform:scaleX(0.9719);transform-origin:0 50%;">Call the COVID-19 Health 24-HR Hotline</div>
<div class="t" style="left:921.20px;top:662.56px;font-size:15.3px;color:#fff;font-family:'DejaVu Serif',serif;transform:scaleX(0.9653);transform-origin:0 50%;">for Symptoms: 625-3632 (Majuro)&nbsp; 329-</div>
<div class="t" style="left:921.20px;top:682.26px;font-size:15.3px;color:#fff;font-family:'DejaVu Serif',serif;transform:scaleX(0.9862);transform-origin:0 50%;">9303&nbsp; (Ebeye)</div>
</body></html>
